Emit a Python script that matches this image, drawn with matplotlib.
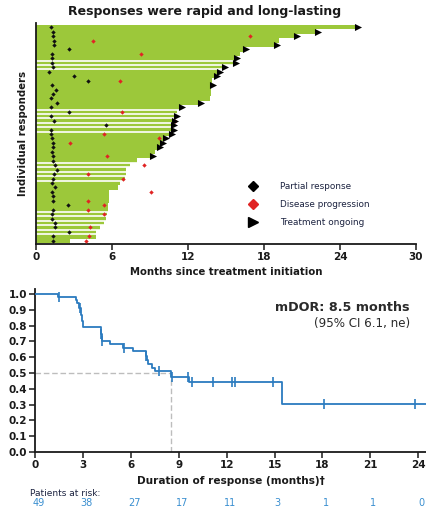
import matplotlib
matplotlib.use("Agg")
import matplotlib.pyplot as plt
import numpy as np
from matplotlib.lines import Line2D
from matplotlib import transforms

# ---------------- swimmer data (one row per responder, top to bottom) ----------------
bar_end = [25.2, 22.1, 20.4, 19.2, 18.8, 16.4, 16.1, 15.7, 15.6, 14.7,
           14.3, 14.1, 13.9, 13.8, 13.8, 13.8, 13.7, 12.8, 11.3, 11.1,
           10.9, 10.8, 10.7, 10.7, 10.5, 10.1, 9.8, 9.6, 9.4, 9.0,
           8.0, 7.4, 7.1, 7.1, 7.0, 6.6, 6.5, 5.8, 5.75, 5.75,
           5.7, 5.7, 5.6, 5.5, 5.4, 5.05, 4.75, 4.7, 2.7]

partial_response = [1.16, 1.37, 1.37, 1.40, 1.40, 2.58, 1.30, 1.24, 1.30, 1.37,
                    1.03, 3.00, 4.13, 1.24, 1.55, 1.37, 1.16, 1.68, 1.16, 2.60,
                    1.16, 1.42, 5.52, 1.16, 1.16, 1.24, 1.37, 1.32, 1.24, 1.37,
                    1.32, 1.50, 1.68, 1.42, 1.37, 1.24, 1.50, 1.24, 1.37, 1.37,
                    2.55, 1.37, 1.24, 1.24, 1.50, 1.50, 2.60, 1.32, 1.37]

progression_row = [2, 3, 6, 12, 19, 21, 24, 25, 26, 29, 31, 33, 34, 37, 39, 40, 41, 42, 45, 47, 48]
progression_month = [16.9, 4.5, 8.3, 6.6, 6.8, 11.0, 5.4, 9.7, 2.7, 5.6, 8.5, 4.1, 6.9, 9.05,
                     4.1, 5.35, 4.1, 5.35, 4.3, 4.2, 3.95]

ongoing_rows = [0, 1, 2, 4, 5, 7, 8, 9, 10, 11, 13, 17, 18, 20, 21, 22, 23, 24, 25, 26, 27, 29]

# rows followed by a thin white separator
separated_rows = [7, 8, 9, 18, 19, 20, 21, 22, 23, 30, 31, 32, 33, 34, 41, 42, 43, 44, 45, 46]

swim_ticks = [0, 6, 12, 18, 24, 30]

# ---------------- Kaplan-Meier data ----------------
km_time = [0, 1.43, 2.54, 2.63, 2.73, 2.86, 2.92, 3.00, 4.10, 4.16, 4.68, 5.51, 6.14,
           6.91, 6.98, 7.08, 7.29, 7.50, 8.48, 9.65, 15.45]
km_surv = [1.0, 0.980, 0.960, 0.940, 0.910, 0.870, 0.830, 0.793, 0.745, 0.703, 0.684, 0.660, 0.640,
           0.610, 0.582, 0.555, 0.534, 0.510, 0.477, 0.445, 0.302]
censor_time = [1.45, 2.79, 4.13, 4.20, 5.53, 6.93, 7.77, 8.55, 9.55, 9.80,
               11.12, 12.30, 12.50, 14.90, 18.07, 23.80]
median_dor = 8.5
km_ticks = [0, 3, 6, 9, 12, 15, 18, 21, 24]
at_risk = [49, 38, 27, 17, 11, 3, 1, 1, 0]

GREEN = "#9cc83a"
BLUE = "#2b7bbf"
RISK_BLUE = "#3a8fd0"
DARK = "#1a1a1a"

plt.rcParams["font.family"] = ["DejaVu Sans"]

fig = plt.figure(figsize=(4.26, 5.12), dpi=100)

# ======================= swimmer plot =======================
ax1 = fig.add_axes([0.0845, 0.5234, 0.892, 0.4323])
rows = np.arange(len(bar_end))
ends = np.array(bar_end)
ax1.barh(rows, ends, height=1.0, color=GREEN, linewidth=0, zorder=1)
for r in separated_rows:
    ax1.hlines(r + 0.5, 0, max(ends[r], ends[r + 1]), color="white", lw=1.2, zorder=2)

ax1.scatter(partial_response, rows, marker="D", s=5, color="#111111", zorder=3, linewidths=0)
ax1.scatter(progression_month, progression_row, marker="D", s=5, color="#e02424", zorder=3, linewidths=0)
ongo = np.array(ongoing_rows)
ax1.scatter(ends[ongo] + 0.2, ongo, marker=">", s=26, color="black", zorder=4, linewidths=0)

ax1.set_xlim(0, 30)
ax1.set_ylim(48.72, -1.02)
ax1.set_xticks(swim_ticks)
ax1.set_xticklabels([str(t) for t in swim_ticks], fontsize=7.5, fontweight="bold", color=DARK)
ax1.set_yticks([])
for s in ["top", "right"]:
    ax1.spines[s].set_visible(False)
for s in ["left", "bottom"]:
    ax1.spines[s].set_linewidth(1.3)
    ax1.spines[s].set_color(DARK)
ax1.tick_params(axis="x", length=4, width=1.1, pad=2, color=DARK)
ax1.set_xlabel("Months since treatment initiation", fontsize=7.3, fontweight="bold",
               color=DARK, labelpad=3)
ax1.set_ylabel("Individual responders", fontsize=7.3, fontweight="bold", color=DARK, labelpad=6)
fig.text(0.48, 0.977, "Responses were rapid and long-lasting", ha="center", va="center",
         fontsize=9, fontweight="bold", color=DARK)

handles = [
    Line2D([], [], marker="D", ls="", color="black", ms=5),
    Line2D([], [], marker="D", ls="", color="#e02424", ms=5),
    Line2D([], [], marker=">", ls="", color="black", ms=7),
]
ax1.legend(handles, ["Partial response", "Disease progression", "Treatment ongoing"],
           loc="upper left", bbox_to_anchor=(0.559, 0.278), frameon=False, fontsize=6.4,
           handlelength=1.0, handletextpad=2.6, labelspacing=0.98, borderpad=0,
           borderaxespad=0, labelcolor="#1c2340")

# ======================= Kaplan-Meier plot =======================
ax2 = fig.add_axes([0.0833, 0.1172, 0.9167, 0.3178])
ax2.step(km_time + [24.5], km_surv + [km_surv[-1]], where="post", color=BLUE, lw=1.3, zorder=3)
idx = np.searchsorted(km_time, censor_time, side="right") - 1
censor_surv = np.array(km_surv)[idx]
ax2.scatter(censor_time, censor_surv, marker="|", s=45, color=BLUE, linewidths=1.2, zorder=4)

ax2.plot([0, median_dor], [0.5, 0.5], color="#bdbdbd", ls=(0, (4, 2)), lw=1.0, zorder=2)
ax2.plot([median_dor, median_dor], [0, 0.5], color="#bdbdbd", ls=(0, (4, 2)), lw=1.0, zorder=2)

ax2.set_xlim(0, 24.5)
ax2.set_ylim(0, 1.03)
ax2.set_xticks(km_ticks)
ax2.set_xticklabels([str(t) for t in km_ticks], fontsize=7.5, fontweight="bold", color=DARK)
yt = np.round(np.arange(0, 1.01, 0.1), 1)
ax2.set_yticks(yt)
ax2.set_yticklabels([f"{v:.1f}" for v in yt], fontsize=7.5, fontweight="bold", color=DARK)
for s in ["top", "right"]:
    ax2.spines[s].set_visible(False)
for s in ["left", "bottom"]:
    ax2.spines[s].set_linewidth(1.3)
    ax2.spines[s].set_color(DARK)
ax2.tick_params(axis="both", length=4, width=1.1, pad=2, color=DARK)
ax2.set_xlabel("Duration of response (months)\u2020", fontsize=7.6, fontweight="bold",
               color=DARK, labelpad=4)

ax2.text(0.959, 0.885, "mDOR: 8.5 months", transform=ax2.transAxes, ha="right", va="center",
         fontsize=9.2, fontweight="bold", color="#2a2a2a")
ax2.text(0.959, 0.787, "(95% CI 6.1, ne)", transform=ax2.transAxes, ha="right", va="center",
         fontsize=8.6, color="#2a2a2a")

fig.text(0.07, 0.037, "Patients at risk:", ha="left", va="center", fontsize=6.5, color="#1c2340")
risk_tr = transforms.blended_transform_factory(ax2.transData, fig.transFigure)
for t, n in zip(km_ticks, at_risk):
    ax2.text(t + 0.2, 0.0176, str(n), transform=risk_tr, ha="center", va="center",
             fontsize=7, color=RISK_BLUE, clip_on=False)

fig.savefig("out.png", dpi=100)
